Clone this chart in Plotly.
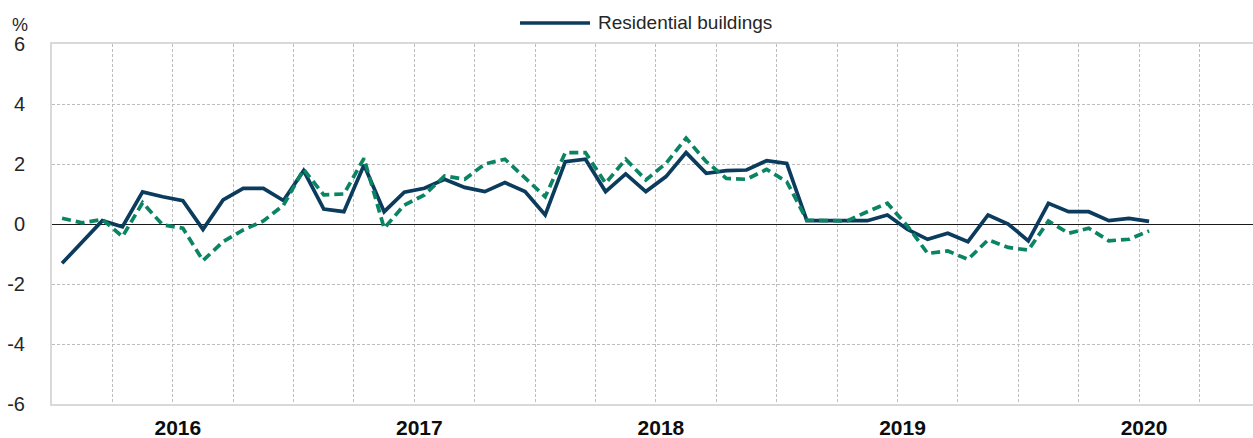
"""
Residential buildings - monthly % change, Jul 2015 to Jan 2020
"""
import numpy as np
import plotly.graph_objects as go

# monthly categories, Jul 2015 .. Jan 2020
months = [f'{2015 + (6 + k) // 12}-{(6 + k) % 12 + 1:02d}' for k in range(55)]

residential = [
    -1.31, -0.60, 0.11, -0.09, 1.07, 0.91, 0.78, -0.18, 0.80, 1.19,
    1.19, 0.78, 1.78, 0.50, 0.41, 1.97, 0.41, 1.06, 1.19, 1.49,
    1.22, 1.08, 1.38, 1.08, 0.30, 2.08, 2.16, 1.08, 1.67, 1.08,
    1.58, 2.38, 1.69, 1.78, 1.80, 2.11, 2.02, 0.11, 0.10, 0.10,
    0.11, 0.30, -0.18, -0.51, -0.31, -0.59, 0.30, 0.00, -0.56, 0.69,
    0.41, 0.41, 0.11, 0.19, 0.09,
]

residential_dashed = [
    0.19, 0.04, 0.15, -0.42, 0.71, -0.03, -0.14, -1.22, -0.59, -0.20,
    0.10, 0.63, 1.82, 0.97, 1.00, 2.19, -0.14, 0.63, 0.97, 1.60,
    1.49, 2.00, 2.16, 1.52, 0.91, 2.38, 2.38, 1.36, 2.16, 1.47,
    2.02, 2.86, 2.08, 1.52, 1.49, 1.82, 1.41, 0.13, 0.10, 0.10,
    0.41, 0.69, -0.07, -0.98, -0.90, -1.18, -0.53, -0.78, -0.87, 0.10,
    -0.31, -0.14, -0.56, -0.51, -0.23,
]

year_labels = ['2016', '2017', '2018', '2019', '2020']
y_ticks = [-6, -4, -2, 0, 2, 4, 6]

FONT = 'Liberation Sans, Arial, sans-serif'
NAVY = '#0B3C5D'
GREEN = '#0A8463'
GRID = '#BDBDBD'

x = np.arange(len(months))
jan_idx = [months.index(f'{y}-01') for y in year_labels]

fig = go.Figure()

fig.add_trace(go.Scatter(
    x=x, y=residential, name='Residential buildings', mode='lines',
    line=dict(color=NAVY, width=3.7), customdata=months,
    hovertemplate='%{customdata}: %{y:.1f}%<extra></extra>',
    showlegend=False,
))

fig.add_trace(go.Scatter(
    x=x, y=residential_dashed, name='Residential buildings (dashed)', mode='lines',
    line=dict(color=GREEN, width=3.7, dash='9px,5px'), customdata=months,
    hovertemplate='%{customdata}: %{y:.1f}%<extra></extra>',
    showlegend=False,
))

# hand-drawn legend (long line sample like the original)
fig.add_shape(type='line', xref='paper', yref='paper',
              x0=(520 - 52) / 1201, x1=(590 - 52) / 1201,
              y0=(404 - 23) / 360, y1=(404 - 23) / 360,
              line=dict(color=NAVY, width=3.7))
fig.add_annotation(text='Residential buildings', xref='paper', yref='paper',
                   x=(596 - 52) / 1201, y=(404 - 23) / 360,
                   xanchor='left', yanchor='middle', showarrow=False,
                   font=dict(size=19, color='#262626', family=FONT))

fig.add_annotation(text='%', xref='paper', yref='paper',
                   x=(20 - 52) / 1201, y=(404 - 25) / 360,
                   xanchor='center', yanchor='middle', showarrow=False,
                   font=dict(size=18, color='#262626', family=FONT))

fig.update_layout(
    width=1253, height=438,
    margin=dict(l=52, r=0, t=44, b=34, autoexpand=False),
    plot_bgcolor='white', paper_bgcolor='white',
    font=dict(family=FONT, size=20, color='#262626'),
    hovermode='x unified',
)

fig.update_xaxes(
    range=[-0.5, -0.5 + 1201 / 20.13],
    tickvals=[i - 0.25 for i in jan_idx], ticktext=year_labels,
    tickfont=dict(size=21, color='#0D0D0D', family=FONT, weight='bold'), ticks='',
    showgrid=False, zeroline=False, automargin=False,
    showline=True, linecolor='#D9D9D9', linewidth=2, mirror=True,
    minor=dict(tick0=2.5, dtick=3, showgrid=True, gridcolor=GRID,
               griddash='3px,2px', gridwidth=1),
    ticklabelstandoff=4,
)

fig.update_yaxes(
    range=[-6, 6], tickvals=y_ticks, ticktext=[str(v) for v in y_ticks],
    showgrid=True, gridcolor=GRID, griddash='3px,2px', gridwidth=1,
    zeroline=True, zerolinecolor='#1A1A1A', zerolinewidth=1.2,
    showline=True, linecolor='#D9D9D9', linewidth=2, mirror=False,
    ticks='', ticklabelstandoff=21, automargin=False,
)

# drop the browser's default 8px body margin so the figure sits at the corner
fig.write_html('out.html', config={'displayModeBar': False},
               post_script="document.body.style.margin='0px';")
